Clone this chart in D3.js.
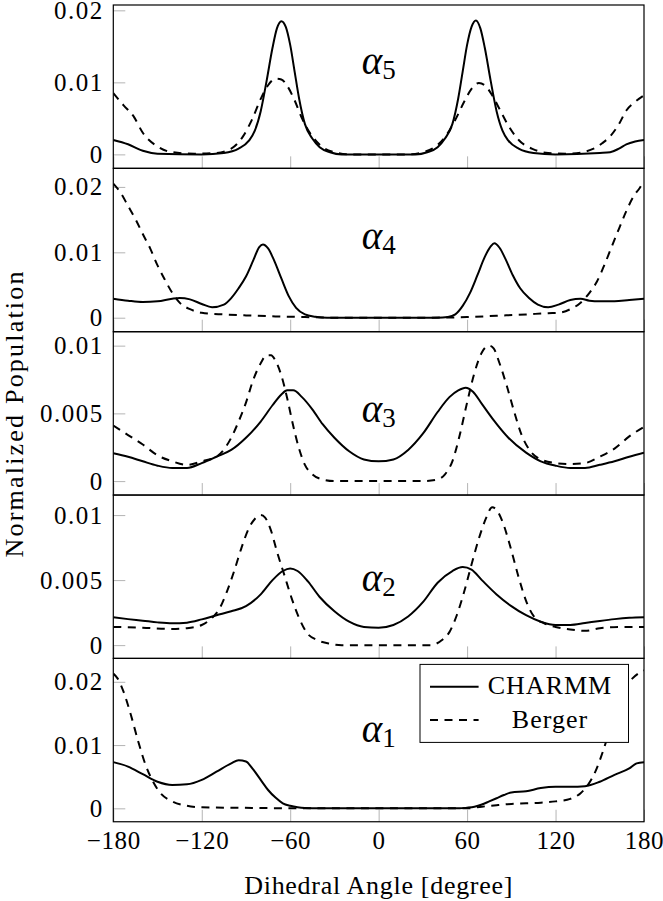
<!DOCTYPE html>
<html>
<head>
<meta charset="utf-8">
<script src="https://cdn.jsdelivr.net/npm/d3@7"></script>
<style>
body { margin: 0; background: #fff; }
svg { display: block; }
svg text { font-family: 'Liberation Serif', 'DejaVu Serif', serif; fill: #000; }
</style>
</head>
<body>
<svg width="663" height="901"></svg>
<script>
// dihedral angle ticks
var xTicks = [-180, -120, -60, 0, 60, 120, 180];

// panels top to bottom: alpha5 .. alpha1
var panelNames = ["5", "4", "3", "2", "1"];
var yDomains = [[-0.00194, 0.02074], [-0.00214, 0.02284], [-0.00103, 0.01103], [-0.00102, 0.01154], [-0.00212, 0.0237]];
var yTicks = [[0, 0.01, 0.02], [0, 0.01, 0.02], [0, 0.005, 0.01], [0, 0.005, 0.01], [0, 0.01, 0.02]];
var labelAt = [0.0112, 0.0105, 0.0044, 0.0042, 0.0105];

var charmm5 = [[-180,0.0020],[-170,0.0014],[-160,0.0005],[-150,0.0001],[-120,0],[-105,0.0002],[-95,0.0008],[-88,0.0019],[-84,0.0033],[-80,0.0060],[-76,0.0102],[-72,0.0148],[-69,0.0175],[-66,0.0185],[-63,0.0177],[-60,0.0152],[-57,0.0115],[-54,0.0078],[-50,0.0042],[-45,0.0022],[-40,0.0010],[-33,0.0003],[-25,0],[25,0],[33,0.0003],[40,0.0010],[45,0.0022],[50,0.0042],[54,0.0078],[57,0.0115],[60,0.0152],[63,0.0177],[66,0.0186],[69,0.0175],[72,0.0148],[76,0.0102],[80,0.0060],[84,0.0033],[88,0.0019],[95,0.0008],[105,0.0002],[120,0],[150,0.0002],[157,0.0003],[163,0.0008],[168,0.0014],[174,0.0018],[180,0.0020]];
var berger5 = [[-180,0.0085],[-173,0.0068],[-166,0.0052],[-160,0.0030],[-150,0.0011],[-140,0.0003],[-125,0.0001],[-110,0.0002],[-100,0.0008],[-92,0.0025],[-86,0.0048],[-80,0.0077],[-75,0.0096],[-70,0.0105],[-66,0.0104],[-62,0.0095],[-57,0.0075],[-52,0.0050],[-45,0.0025],[-38,0.0010],[-30,0.0003],[-20,0],[20,0],[30,0.0003],[38,0.0010],[45,0.0024],[52,0.0048],[58,0.0073],[63,0.0091],[68,0.0099],[72,0.0096],[77,0.0082],[82,0.0063],[88,0.0040],[95,0.0020],[105,0.0007],[115,0.0002],[130,0.0001],[147,0.0009],[152,0.0016],[157,0.0025],[163,0.0042],[168,0.0061],[174,0.0073],[180,0.0082]];

var charmm4 = [[-180,0.0029],[-170,0.0026],[-160,0.0024],[-150,0.0025],[-140,0.0029],[-135,0.0030],[-128,0.0028],[-120,0.0021],[-113,0.0016],[-105,0.0020],[-100,0.0030],[-95,0.0045],[-90,0.0063],[-85,0.0088],[-81,0.0108],[-78.5,0.0112],[-75,0.0106],[-71,0.0088],[-66,0.0060],[-61,0.0033],[-56,0.0015],[-50,0.0005],[-43,0.00015],[-35,0],[40,0],[47,0.0001],[52,0.0005],[57,0.0018],[62,0.0038],[67,0.0065],[72,0.0093],[76,0.0109],[78.5,0.0114],[82,0.0107],[86,0.0090],[91,0.0065],[96,0.0045],[102,0.0030],[108,0.0020],[115,0.0016],[122,0.0020],[130,0.0027],[137,0.0029],[143,0.0026],[150,0.0025],[160,0.0025],[170,0.0027],[180,0.0029]];
var berger4 = [[-180,0.0205],[-175,0.0191],[-170,0.0171],[-165,0.0151],[-160,0.0128],[-155,0.0106],[-150,0.0080],[-145,0.0058],[-140,0.0038],[-135,0.0023],[-128,0.0013],[-120,0.00075],[-105,0.0005],[-90,0.00035],[-70,0.0002],[-50,0.0001],[-30,0],[30,0],[60,0.0001],[80,0.0003],[100,0.0005],[115,0.0007],[122,0.00075],[130,0.0013],[137,0.0023],[143,0.0038],[148,0.0055],[153,0.0080],[158,0.0108],[163,0.0136],[168,0.0163],[173,0.0186],[177,0.0198],[180,0.0209]];

var charmm3 = [[-180,0.00206],[-170,0.0018],[-160,0.00146],[-150,0.00114],[-140,0.00097],[-130,0.00097],[-120,0.00133],[-110,0.0018],[-100,0.0023],[-90,0.0032],[-80,0.0044],[-72,0.0056],[-66,0.0064],[-62,0.0067],[-58,0.0067],[-52,0.0062],[-45,0.0053],[-38,0.0042],[-30,0.0032],[-20,0.0022],[-10,0.0016],[0,0.00146],[10,0.0016],[20,0.0023],[30,0.0035],[40,0.0051],[48,0.0062],[54,0.0067],[59,0.0069],[64,0.0066],[70,0.0057],[78,0.0045],[88,0.0032],[100,0.0021],[110,0.00146],[120,0.00114],[130,0.00097],[140,0.00097],[150,0.0012],[160,0.00146],[170,0.0018],[180,0.0021]];
var berger3 = [[-180,0.0041],[-170,0.0034],[-160,0.0027],[-150,0.0019],[-140,0.00146],[-130,0.0012],[-120,0.00146],[-110,0.0018],[-100,0.0032],[-95,0.0044],[-90,0.0058],[-85,0.0075],[-80,0.0087],[-76,0.0093],[-73,0.0093],[-70,0.0089],[-66,0.0078],[-62,0.0061],[-58,0.0041],[-54,0.0024],[-50,0.0012],[-45,0.0005],[-38,0.00012],[-30,0],[30,0],[40,0.00012],[45,0.0005],[50,0.00146],[55,0.0034],[60,0.0058],[65,0.0080],[70,0.0095],[75,0.0100],[78,0.0098],[82,0.0087],[87,0.0070],[92,0.0051],[97,0.0034],[103,0.0022],[110,0.0016],[120,0.00133],[130,0.00126],[140,0.00133],[150,0.0018],[160,0.0024],[170,0.0033],[180,0.0040]];

var charmm2 = [[-180,0.00214],[-170,0.0020],[-160,0.00188],[-150,0.00175],[-140,0.00168],[-130,0.00173],[-120,0.00198],[-110,0.0023],[-100,0.0026],[-90,0.0030],[-80,0.0039],[-72,0.0050],[-65,0.0057],[-60,0.0059],[-55,0.0057],[-48,0.0049],[-40,0.0037],[-30,0.0026],[-20,0.0018],[-10,0.0014],[0,0.00134],[10,0.00155],[20,0.0022],[30,0.0033],[40,0.0048],[50,0.0057],[57,0.0060],[63,0.0058],[70,0.0050],[80,0.0039],[90,0.0030],[100,0.0023],[110,0.0018],[120,0.00155],[130,0.00155],[140,0.0017],[150,0.00186],[160,0.0020],[170,0.0021],[180,0.00214]];
var berger2 = [[-180,0.0014],[-160,0.00134],[-140,0.00124],[-130,0.0013],[-120,0.00155],[-113,0.0021],[-108,0.0028],[-103,0.0041],[-98,0.0057],[-93,0.0075],[-88,0.0090],[-84,0.0097],[-80,0.0100],[-77,0.0098],[-73,0.0088],[-69,0.0072],[-64,0.0054],[-59,0.0036],[-54,0.0021],[-49,0.0010],[-42,0.0004],[-34,0.00013],[-25,0],[35,0],[43,0.0004],[48,0.0010],[53,0.0023],[58,0.0041],[63,0.0062],[68,0.0082],[73,0.0098],[77,0.0106],[80,0.0104],[84,0.0095],[89,0.0077],[95,0.0052],[100,0.0034],[106,0.0021],[112,0.0017],[120,0.0014],[130,0.0012],[140,0.0011],[150,0.0013],[165,0.0014],[180,0.0014]];

var charmm1 = [[-180,0.0073],[-170,0.0066],[-160,0.0054],[-150,0.0042],[-140,0.0037],[-130,0.0038],[-120,0.0045],[-110,0.0058],[-100,0.0071],[-95,0.0076],[-90,0.0074],[-85,0.0061],[-80,0.0045],[-75,0.0029],[-70,0.0017],[-65,0.0008],[-60,0.0004],[-55,0.00016],[-50,0.00005],[-40,0],[55,0],[60,0.0001],[65,0.00026],[70,0.0006],[75,0.0011],[80,0.0016],[85,0.0021],[90,0.0025],[100,0.0027],[110,0.0032],[120,0.0034],[130,0.0034],[140,0.0035],[150,0.0042],[160,0.0053],[170,0.0063],[175,0.0071],[180,0.0073]];
var berger1 = [[-180,0.0213],[-177,0.0205],[-173,0.0184],[-168,0.0147],[-163,0.0105],[-158,0.0068],[-153,0.0042],[-148,0.0024],[-140,0.0011],[-130,0.0004],[-120,0.00016],[-100,0.0001],[-80,0.00005],[-60,0],[60,0],[70,0.00026],[80,0.0005],[90,0.0007],[100,0.0008],[110,0.0009],[120,0.0011],[130,0.0015],[137,0.0024],[142,0.0037],[147,0.0058],[152,0.0089],[157,0.0126],[162,0.0163],[167,0.0189],[172,0.0205],[176,0.0213],[180,0.0218]];

var charmmSeries = [charmm5, charmm4, charmm3, charmm2, charmm1];
var bergerSeries = [berger5, berger4, berger3, berger2, berger1];
var legendNames = ["CHARMM", "Berger"];

var svg = d3.select("svg");
var left = 113.3, right = 644, top0 = 5, panelH = 163.35;
var dash = "8,6.5";

var x = d3.scaleLinear().domain([-180, 180]).range([left, right]);

panelNames.forEach(function (name, i) {
	var y0 = top0 + i * panelH, y1 = y0 + panelH;
	var y = d3.scaleLinear().domain(yDomains[i]).range([y1, y0]);
	var g = svg.append("g");

	g.append("clipPath").attr("id", "clip" + i)
	.append("rect").attr("x", left).attr("y", y0).attr("width", right - left).attr("height", panelH);

	// inward gray ticks
	var ax = g.append("g").attr("transform", "translate(0," + y1 + ")")
	.call(d3.axisBottom(x).tickValues(xTicks).tickSize(-12).tickPadding(9.5)
		.tickFormat(i == 4 ? function (d) { return d < 0 ? "\u2212" + (-d) : d; } : function () { return ""; }));
	var ay = g.append("g").attr("transform", "translate(" + left + ",0)")
	.call(d3.axisLeft(y).tickValues(yTicks[i]).tickSize(-12).tickPadding(9.5)
		.tickFormat(function (d) { return d === 0 ? "0" : d3.format("~g")(d); }));

	[ax, ay].forEach(function (a) {
		a.attr("font-family", null).attr("font-size", null);
		a.select(".domain").remove();
		a.selectAll(".tick line").attr("stroke", "#b4b4b4").attr("stroke-width", 1);
		a.selectAll(".tick text").style("font-size", "25px");
	});
	ay.selectAll(".tick text").style("letter-spacing", "1.5px");
	ax.selectAll(".tick text").style("letter-spacing", "0.6px");

	var line = d3.line()
	.x(function (d) { return x(d[0]); })
	.y(function (d) { return y(d[1]); })
	.curve(d3.curveMonotoneX);

	var lines = g.append("g").attr("clip-path", "url(#clip" + i + ")");
	lines.append("path").datum(bergerSeries[i])
	.attr("d", line).attr("fill", "none").attr("stroke", "#000")
	.attr("stroke-width", 2).attr("stroke-dasharray", dash);
	lines.append("path").datum(charmmSeries[i])
	.attr("d", line).attr("fill", "none").attr("stroke", "#000")
	.attr("stroke-width", 2);

	var lab = g.append("text")
	.attr("x", x(0)).attr("y", y(labelAt[i]))
	.attr("text-anchor", "middle");
	lab.append("tspan").text("\u03b1").style("font-size", "39px").style("font-style", "italic");
	lab.append("tspan").text(name).style("font-size", "27px").attr("dy", 5);

	if (i == 4) {
		var lg = g.append("g");
		lg.append("rect").attr("x", 420).attr("y", 664.4).attr("width", 208.5).attr("height", 78)
		.attr("fill", "#fff").attr("stroke", "#000").attr("stroke-width", 1);
		legendNames.forEach(function (t, k) {
			var ly = k == 0 ? 686.7 : 720;
			lg.append("line").attr("x1", 430).attr("x2", 478.6).attr("y1", ly).attr("y2", ly)
			.attr("stroke", "#000").attr("stroke-width", 2)
			.attr("stroke-dasharray", k == 0 ? null : dash);
			lg.append("text").attr("x", 550).attr("y", ly + 7.5)
			.attr("text-anchor", "middle").style("font-size", "26px").style("letter-spacing", "1px")
			.text(t);
		});
	}

	g.append("rect").attr("x", left).attr("y", y0).attr("width", right - left).attr("height", panelH)
	.attr("fill", "none").attr("stroke", "#000").attr("stroke-width", 1.2);
});

svg.append("text")
.attr("x", (left + right) / 2).attr("y", 894)
.attr("text-anchor", "middle").style("font-size", "26px").style("letter-spacing", "0.7px")
.text("Dihedral Angle [degree]");

svg.append("text")
.attr("transform", "translate(23," + (top0 + 2.5 * panelH) + ") rotate(-90)")
.attr("text-anchor", "middle").style("font-size", "26px").style("letter-spacing", "2.2px")
.text("Normalized Population");
</script>
</body>
</html>
